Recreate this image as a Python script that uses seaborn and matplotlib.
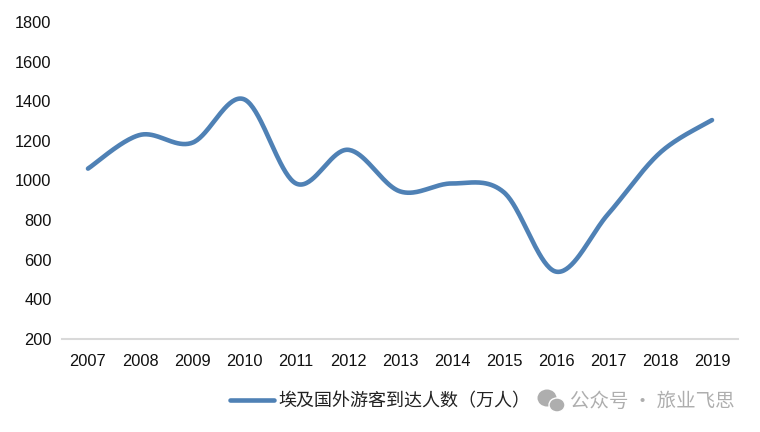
import numpy as np
import pandas as pd
import seaborn as sns
import matplotlib
matplotlib.use("Agg")
import matplotlib.pyplot as plt
from matplotlib.patches import Ellipse

years = [2007, 2008, 2009, 2010, 2011, 2012, 2013, 2014, 2015, 2016, 2017, 2018, 2019]
arrivals = [1060, 1230, 1190, 1410, 985, 1155, 945, 985, 940, 540, 830, 1140, 1305]
y_ticks = [200, 400, 600, 800, 1000, 1200, 1400, 1600, 1800]
series_name = "埃及国外游客到达人数（万人）"
watermark = "公众号 · 旅业飞思"

sns.set_theme(style="white")
plt.rcParams['font.family'] = ['Liberation Sans', 'Noto Sans CJK SC', 'DejaVu Sans']

W, H = 760, 432
fig = plt.figure(figsize=(W / 100, H / 100), dpi=100)
ax = fig.add_axes([62 / W, 1 - 339 / H, 676 / W, 317 / H])


def smooth(x, y, n=40):
    """Spreadsheet-style smoothed line through the annual values (Catmull-Rom)."""
    x, y = np.asarray(x, float), np.asarray(y, float)
    px = np.r_[x[0], x, x[-1]]
    py = np.r_[y[0], y, y[-1]]
    xs, ys = [], []
    t = np.linspace(0, 1, n, endpoint=False)[:, None]
    for i in range(1, len(x)):
        P = lambda a: np.array([px[a], py[a]])
        p0, p1, p2, p3 = P(i - 1), P(i), P(i + 1), P(i + 2)
        c = 0.5 * (2 * p1 + (p2 - p0) * t + (2 * p0 - 5 * p1 + 4 * p2 - p3) * t ** 2
                   + (3 * p1 - p0 - 3 * p2 + p3) * t ** 3)
        xs.append(c[:, 0])
        ys.append(c[:, 1])
    return np.r_[np.concatenate(xs), x[-1]], np.r_[np.concatenate(ys), y[-1]]


df = pd.DataFrame({"year": years, "arrivals": arrivals})
sns.lineplot(data=df, x="year", y="arrivals", ax=ax, color="#4f81b5", linewidth=3.3,
             label=series_name, errorbar=None)
line = ax.get_lines()[0]
line.set_data(*smooth(years, arrivals))
line.set_solid_capstyle("round")

ax.set_xlim(years[0] - 0.5, years[-1] + 0.5)
ax.set_ylim(y_ticks[0], y_ticks[-1])
ax.set_xticks(years)
ax.set_yticks(y_ticks)
ax.set_xlabel("")
ax.set_ylabel("")
ax.tick_params(axis="both", length=0, labelsize=11.8, labelcolor="#111111")
ax.tick_params(axis="x", pad=11)
ax.tick_params(axis="y", pad=7.5)
for s in ("top", "right", "left"):
    ax.spines[s].set_visible(False)
ax.spines["bottom"].set_color("#d9d9d9")
ax.spines["bottom"].set_linewidth(1.5)
ax.grid(False)

leg = ax.legend(loc="center left", bbox_to_anchor=(230 / W, 1 - 402 / H),
                bbox_transform=fig.transFigure, frameon=False, fontsize=13,
                handlelength=2.45, handletextpad=0.22, borderpad=0, borderaxespad=0,
                labelcolor="#222222")

fig.text(735 / W, 1 - 401 / H, watermark, ha="right", va="center", fontsize=14,
         color="#aeaeae", family=['Noto Sans CJK SC', 'DejaVu Sans'])
fig.add_artist(Ellipse((547 / W, 1 - 398 / H), 19 / W, 17 / H, transform=fig.transFigure,
                       facecolor="#aeaeae", edgecolor="none"))
fig.add_artist(Ellipse((557 / W, 1 - 405 / H), 16 / W, 14 / H, transform=fig.transFigure,
                       facecolor="#aeaeae", edgecolor="white", linewidth=1))

fig.savefig("out.png", dpi=100, facecolor="white")
